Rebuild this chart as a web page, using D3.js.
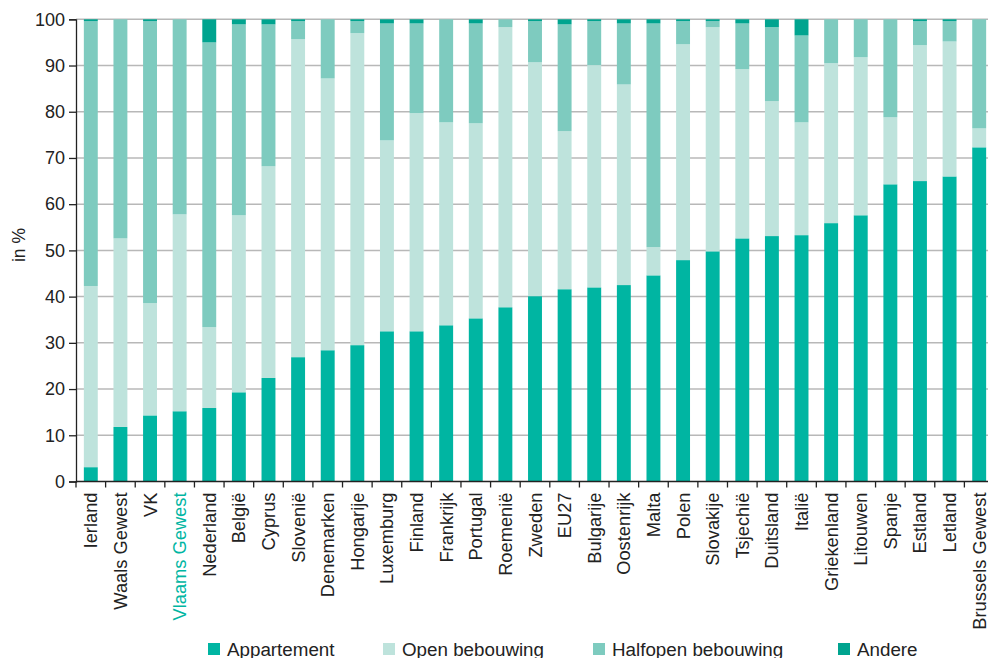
<!DOCTYPE html>
<html><head><meta charset="utf-8">
<script src="https://cdn.jsdelivr.net/npm/d3@7"></script>
<style>body{margin:0;background:#fff}svg{display:block}text{font-family:"Liberation Sans",Arial,Helvetica,sans-serif}</style>
</head><body><svg id="c" width="988" height="658"></svg>
<script>
const categories = ["Ierland","Waals Gewest","VK","Vlaams Gewest","Nederland","België","Cyprus","Slovenië","Denemarken","Hongarije","Luxemburg","Finland","Frankrijk","Portugal","Roemenië","Zweden","EU27","Bulgarije","Oostenrijk","Malta","Polen","Slovakije","Tsjechië","Duitsland","Italië","Griekenland","Litouwen","Spanje","Estland","Letland","Brussels Gewest"];
const appartement = [3.1,11.8,14.3,15.2,15.9,19.3,22.4,26.9,28.4,29.5,32.5,32.5,33.8,35.3,37.7,40.1,41.6,42.0,42.5,44.6,47.9,49.8,52.6,53.1,53.3,55.9,57.6,64.3,65.0,66.0,72.3];
const openBebouwing = [39.2,40.8,24.3,42.6,17.5,38.3,45.8,68.8,58.8,67.5,41.3,47.2,43.9,42.2,60.6,50.6,34.2,48.1,43.4,6.1,46.7,48.5,36.6,29.2,24.4,34.6,34.2,14.5,29.4,29.2,4.1];
const halfopenBebouwing = [57.3,47.4,61.0,42.2,61.6,41.3,30.7,3.9,12.8,2.6,25.3,19.4,22.3,21.6,1.7,8.9,23.1,9.5,13.2,48.4,5.0,1.3,9.9,16.0,18.8,9.5,8.2,21.2,5.2,4.4,23.6];
const andere = [0.4,0,0.4,0,5.0,1.1,1.1,0.4,0,0.4,0.9,0.9,0,0.9,0,0.4,1.1,0.4,0.9,0.9,0.4,0.4,0.9,1.7,3.5,0,0,0,0.4,0.4,0];
const seriesNames = ["Appartement","Open bebouwing","Halfopen bebouwing","Andere"];
const yTicks = [0,10,20,30,40,50,60,70,80,90,100];
const highlighted = ["Vlaams Gewest"];

const colors = ["#00b5a2","#bee3dc","#7ecbbf","#00a48f"];
const svg = d3.select("#c");
const m = {l:76, r:994, t:19.3, b:481.5};
const x = d3.scaleBand().domain(categories).range([m.l, m.r]).paddingInner(0.53).paddingOuter(0.265);
const y = d3.scaleLinear().domain([0,100]).range([m.b, m.t]);

const rows = categories.map((c,i)=>({cat:c, "Appartement":appartement[i], "Open bebouwing":openBebouwing[i], "Halfopen bebouwing":halfopenBebouwing[i], "Andere":andere[i]}));
rows.forEach(r=>{const s=seriesNames.reduce((a,k)=>a+r[k],0); seriesNames.forEach(k=>r[k]=r[k]*100/s);});
const stack = d3.stack().keys(seriesNames)(rows);

svg.append("g").selectAll("line").data(yTicks.filter(d=>d>0)).join("line")
  .attr("x1", m.l).attr("x2", m.r).attr("y1", d=>y(d)).attr("y2", d=>y(d))
  .attr("stroke","#b8b8b8").attr("stroke-width",1.5);

svg.append("g").selectAll("g").data(stack).join("g").attr("fill",(d,i)=>colors[i])
  .selectAll("rect").data(d=>d).join("rect")
  .attr("x", d=>x(d.data.cat)).attr("width", x.bandwidth())
  .attr("y", d=>y(d[1])).attr("height", d=>Math.max(0, y(d[0])-y(d[1])));

const ya = svg.append("g").attr("transform",`translate(${m.l},0)`)
  .call(d3.axisLeft(y).tickValues(yTicks).tickSize(7).tickPadding(4));
ya.select(".domain").attr("stroke","#222").attr("stroke-width",1.3);
ya.selectAll(".tick line").attr("stroke","#222").attr("stroke-width",1.3);
ya.selectAll(".tick text").attr("font-size",18).attr("fill","#222").attr("font-family","Liberation Sans, Arial, sans-serif");

const xa = svg.append("g").attr("transform",`translate(0,${m.b})`);
xa.append("line").attr("x1",m.l).attr("x2",m.r).attr("stroke","#222").attr("stroke-width",1.3);
const step = x.step();
const bounds = d3.range(categories.length+1).map(i=>m.l + i*step);
xa.selectAll("line.tk").data(bounds).join("line").attr("class","tk")
  .attr("x1",d=>d).attr("x2",d=>d).attr("y1",0).attr("y2",6).attr("stroke","#222").attr("stroke-width",1.3);
xa.selectAll("text").data(categories).join("text")
  .attr("transform", d=>`translate(${x(d)+x.bandwidth()/2+6.5},11) rotate(-90)`)
  .attr("text-anchor","end").attr("font-size",18.3)
  .attr("fill", d=>highlighted.includes(d)?"#00b5a2":"#222")
  .text(d=>d);

svg.append("text").attr("transform","translate(25,245) rotate(-90)").attr("text-anchor","middle")
  .attr("font-size",17.5).attr("fill","#222").text("in %");

const legX = [208, 383, 593, 838];
const lg = svg.append("g").selectAll("g").data(seriesNames).join("g")
  .attr("transform",(d,i)=>`translate(${legX[i]},643)`);
lg.append("rect").attr("width",12).attr("height",12).attr("fill",(d,i)=>colors[i]);
lg.append("text").attr("x",19).attr("y",12.5).attr("font-size",18.8).attr("fill","#222").text(d=>d);
</script></body></html>
